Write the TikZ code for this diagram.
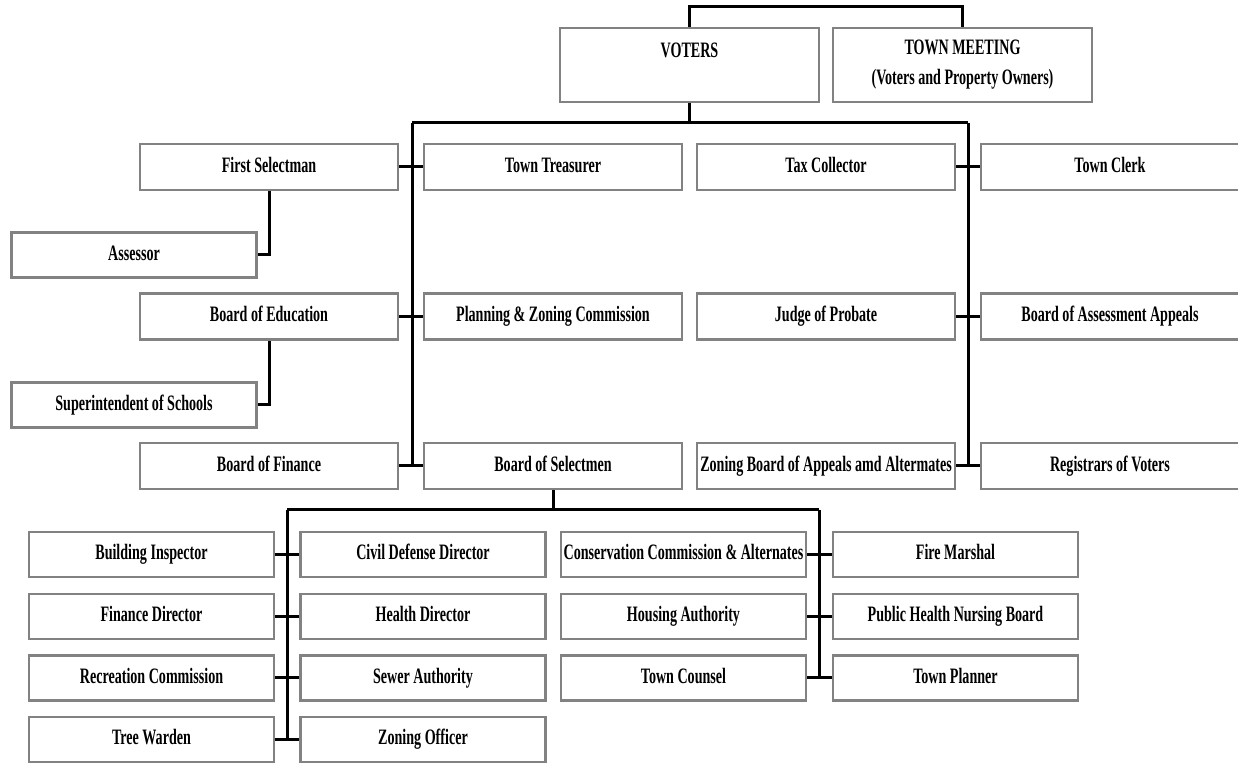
\documentclass[tikz,border=0pt]{standalone}
\usepackage{fontspec}
\setmainfont{Liberation Serif}[FakeStretch=0.64]
\definecolor{boxgray}{RGB}{130,130,130}

\tikzset{
  boxbase/.style={draw=boxgray, line width=1.4pt, fill=white, inner sep=0pt,
    font=\fontsize{11}{15}\selectfont\bfseries},
  unit/.style={boxbase, minimum width=129pt, minimum height=23pt,
    text height=7.6pt, text depth=2.4pt},
  subunit/.style={unit, minimum width=122.5pt, minimum height=22.5pt},
  topunit/.style={boxbase, minimum width=129.5pt, minimum height=37pt, align=center},
  link/.style={line width=1.5pt}
}

\begin{document}
\begin{tikzpicture}[x=0.5pt,y=-0.5pt]
  \useasboundingbox (0,0) rectangle (1238,763);

  % 上段
  \node[topunit] (voters) at (689.5,65) {VOTERS\\~};
  \node[topunit] (meeting) at (962.5,65) {TOWN MEETING\\(Voters and Property Owners)};
  \draw[link] (voters.north) -- ++(0,-20) -| (meeting.north);

  % 選出された役職
  \node[unit] (firstsel)   at (269,167) {First Selectman};
  \node[unit] (treasurer)  at (553,167) {Town Treasurer};
  \node[unit] (taxcoll)    at (826,167) {Tax Collector};
  \node[unit] (clerk)      at (1110,167) {Town Clerk};
  \node[unit] (education)  at (269,316.5) {Board of Education};
  \node[unit] (planning)   at (553,316.5) {Planning \& Zoning Commission};
  \node[unit] (probate)    at (826,316.5) {Judge of Probate};
  \node[unit] (appeals)    at (1110,316.5) {Board of Assessment Appeals};
  \node[unit] (finance)    at (269,466) {Board of Finance};
  \node[unit] (selectmen)  at (553,466) {Board of Selectmen};
  \node[unit] (zoning)     at (826,466) {Zoning Board of Appeals amd Altermates};
  \node[unit] (registrars) at (1110,466) {Registrars of Voters};

  \node[subunit] (assessor) at (134,255) {Assessor};
  \node[subunit] (superint) at (134,405) {Superintendent of Schools};

  % 幹線
  \coordinate (busL) at (412,123);
  \coordinate (busR) at (968,123);
  \draw[link] (voters.south) -- (voters.south |- busL);
  \draw[link] (busL) -- (busR);
  \draw[link] (busL) -- (busL |- finance.east);
  \draw[link] (busR) -- (busR |- zoning.east);

  \draw[link] (firstsel.east) -- (treasurer.west);
  \draw[link] (taxcoll.east) -- (clerk.west);
  \draw[link] (education.east) -- (planning.west);
  \draw[link] (probate.east) -- (appeals.west);
  \draw[link] (finance.east) -- (selectmen.west);
  \draw[link] (zoning.east) -- (registrars.west);

  \draw[link] (firstsel.south) |- (assessor.east);
  \draw[link] (education.south) |- (superint.east);

  % 任命された役職
  \node[subunit] (building)   at (151.5,554.5) {Building Inspector};
  \node[subunit] (civil)      at (423,554.5) {Civil Defense Director};
  \node[subunit] (conserv)    at (683.5,554.5) {Conservation Commission \& Alternates};
  \node[subunit] (firemar)    at (955.5,554.5) {Fire Marshal};
  \node[subunit] (findir)     at (151.5,616.5) {Finance Director};
  \node[subunit] (health)     at (423,616.5) {Health Director};
  \node[subunit] (housing)    at (683.5,616.5) {Housing Authority};
  \node[subunit] (nursing)    at (955.5,616.5) {Public Health Nursing Board};
  \node[subunit] (recreation) at (151.5,678) {Recreation Commission};
  \node[subunit] (sewer)      at (423,678) {Sewer Authority};
  \node[subunit] (counsel)    at (683.5,678) {Town Counsel};
  \node[subunit] (planner)    at (955.5,678) {Town Planner};
  \node[subunit] (tree)       at (151.5,739.5) {Tree Warden};
  \node[subunit] (zoningoff)  at (423,739.5) {Zoning Officer};

  % 支線
  \coordinate (subL) at (287,510);
  \coordinate (subR) at (819,510);
  \draw[link] (selectmen.south) -- (selectmen.south |- subL);
  \draw[link] (subL) -- (subR);
  \draw[link] (subL) -- (subL |- tree.east);
  \draw[link] (subR) -- (subR |- counsel.east);

  \draw[link] (building.east) -- (civil.west);
  \draw[link] (findir.east) -- (health.west);
  \draw[link] (recreation.east) -- (sewer.west);
  \draw[link] (tree.east) -- (zoningoff.west);
  \draw[link] (conserv.east) -- (firemar.west);
  \draw[link] (housing.east) -- (nursing.west);
  \draw[link] (counsel.east) -- (planner.west);
\end{tikzpicture}
\end{document}
